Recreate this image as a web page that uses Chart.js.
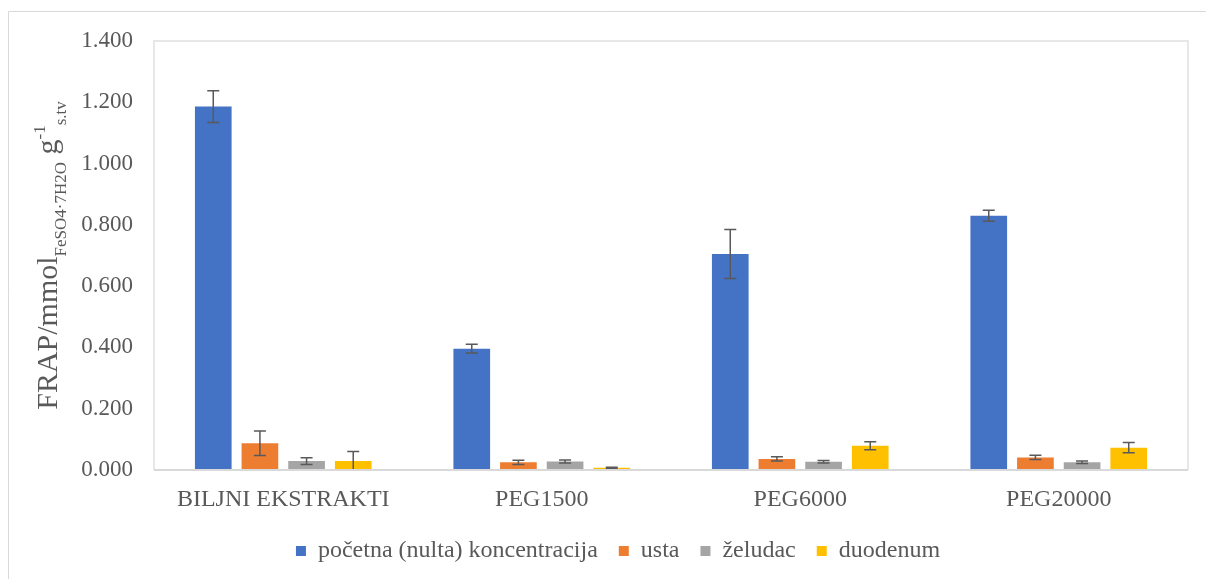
<!DOCTYPE html>
<html>
<head>
<meta charset="utf-8">
<script src="https://cdn.jsdelivr.net/npm/chart.js@4"></script>
<style>
  body { margin: 0; background: #fff; }
  #wrap { width: 1206px; height: 579px; }
</style>
</head>
<body>
<div id="wrap"><canvas id="frapChart" width="1206" height="579"></canvas></div>
<script>
// Data
const categories = ['BILJNI EKSTRAKTI', 'PEG1500', 'PEG6000', 'PEG20000'];
const seriesNames = ['početna (nulta) koncentracija', 'usta', 'želudac', 'duodenum'];
const pocetna = [1.186, 0.396, 0.705, 0.830];
const pocetnaErr = [0.052, 0.014, 0.080, 0.018];
const usta = [0.087, 0.025, 0.036, 0.041];
const ustaErr = [0.040, 0.007, 0.007, 0.007];
const zeludac = [0.029, 0.028, 0.027, 0.025];
const zeludacErr = [0.011, 0.005, 0.004, 0.004];
const duodenum = [0.029, 0.007, 0.079, 0.073];
const duodenumErr = [0.031, 0.002, 0.013, 0.017];
const yMin = 0, yMax = 1.4, yStep = 0.2;

const colors = ['#4472C4', '#ED7D31', '#A5A5A5', '#FFC000'];
const seriesValues = [pocetna, usta, zeludac, duodenum];
const seriesErrors = [pocetnaErr, ustaErr, zeludacErr, duodenumErr];

const textColor = '#595959';
const fontFamily = '"Liberation Serif", "Times New Roman", serif';

// Error bars (custom, Chart.js has none)
const errorBarPlugin = {
    id: 'errorBars',
    afterDatasetsDraw(chart) {
        const ctx = chart.ctx;
        const yScale = chart.scales.y;
        ctx.save();
        ctx.strokeStyle = '#595959';
        ctx.lineWidth = 1.5;
        chart.data.datasets.forEach((ds, i) => {
            const meta = chart.getDatasetMeta(i);
            meta.data.forEach((bar, j) => {
                const v = ds.data[j];
                const e = ds.errors[j];
                const yTop = yScale.getPixelForValue(v + e);
                const yBot = yScale.getPixelForValue(Math.max(v - e, 0));
                const x = bar.x;
                ctx.beginPath();
                ctx.moveTo(x, yTop); ctx.lineTo(x, yBot);
                ctx.moveTo(x - 6, yTop); ctx.lineTo(x + 6, yTop);
                ctx.moveTo(x - 6, yBot); ctx.lineTo(x + 6, yBot);
                ctx.stroke();
            });
        });
        ctx.restore();
    }
};

// Outer frame, plot area box and the y axis title with sub/superscripts
const framePlugin = {
    id: 'frame',
    beforeDraw(chart) {
        const ctx = chart.ctx;
        const a = chart.chartArea;
        ctx.save();
        ctx.strokeStyle = '#d9d9d9';
        ctx.lineWidth = 1;
        ctx.beginPath();
        ctx.moveTo(8.5, chart.height); ctx.lineTo(8.5, 11.5); ctx.lineTo(chart.width, 11.5);
        ctx.stroke();
        ctx.strokeStyle = '#e7e7e7';
        ctx.lineWidth = 2;
        ctx.beginPath();
        ctx.moveTo(a.left, a.bottom); ctx.lineTo(a.left, a.top); ctx.lineTo(a.right, a.top); ctx.lineTo(a.right, a.bottom);
        ctx.stroke();
        ctx.restore();
    },
    afterDraw(chart) {
        const ctx = chart.ctx;
        const a = chart.chartArea;
        ctx.save();
        ctx.strokeStyle = '#d9d9d9';
        ctx.lineWidth = 2;
        ctx.beginPath();
        ctx.moveTo(a.left, a.bottom); ctx.lineTo(a.right, a.bottom);
        ctx.stroke();

        const parts = [
            { text: 'FRAP/mmol', size: 30, dy: 0 },
            { text: 'FeSO4·7H2O', size: 17, dy: 9 },
            { text: ' g', size: 30, dy: 0 },
            { text: '-1', size: 17, dy: -12 },
            { text: 's.tv', size: 17, dy: 9 }
        ];
        let total = 0;
        parts.forEach(p => {
            ctx.font = p.size + 'px ' + fontFamily;
            p.w = ctx.measureText(p.text).width;
            total += p.w;
        });
        ctx.translate(57, (a.top + a.bottom) / 2);
        ctx.rotate(-Math.PI / 2);
        ctx.fillStyle = textColor;
        ctx.textBaseline = 'alphabetic';
        ctx.textAlign = 'left';
        let x = -total / 2;
        parts.forEach(p => {
            ctx.font = p.size + 'px ' + fontFamily;
            ctx.fillText(p.text, x, p.dy);
            x += p.w;
        });
        ctx.restore();
    }
};

const ctx = document.getElementById('frapChart').getContext('2d');
new Chart(ctx, {
    type: 'bar',
    data: {
        labels: categories,
        datasets: seriesNames.map((name, i) => ({
            label: name,
            data: seriesValues[i],
            errors: seriesErrors[i],
            backgroundColor: colors[i],
            borderWidth: 0,
            categoryPercentage: 0.722,
            barPercentage: 0.786
        }))
    },
    options: {
        responsive: false,
        animation: false,
        layout: {
            padding: { top: 41, right: 18, bottom: 6, left: 48 }
        },
        scales: {
            x: {
                grid: { display: false },
                border: { display: false },
                ticks: {
                    color: textColor,
                    font: { family: fontFamily, size: 24 },
                    padding: 7
                },
                afterFit(scale) { scale.height = 48; }
            },
            y: {
                min: yMin,
                max: yMax,
                grid: { display: false, drawTicks: false },
                border: { display: false },
                ticks: {
                    stepSize: yStep,
                    color: textColor,
                    font: { family: fontFamily, size: 23 },
                    padding: 21,
                    callback: v => Number(v).toFixed(3)
                },
                afterFit(scale) { scale.width = 106; }
            }
        },
        plugins: {
            legend: {
                position: 'bottom',
                labels: {
                    color: textColor,
                    font: { family: fontFamily, size: 24 },
                    boxWidth: 10,
                    boxHeight: 10,
                    padding: 21
                }
            },
            tooltip: { enabled: false }
        }
    },
    plugins: [errorBarPlugin, framePlugin]
});
</script>
</body>
</html>
